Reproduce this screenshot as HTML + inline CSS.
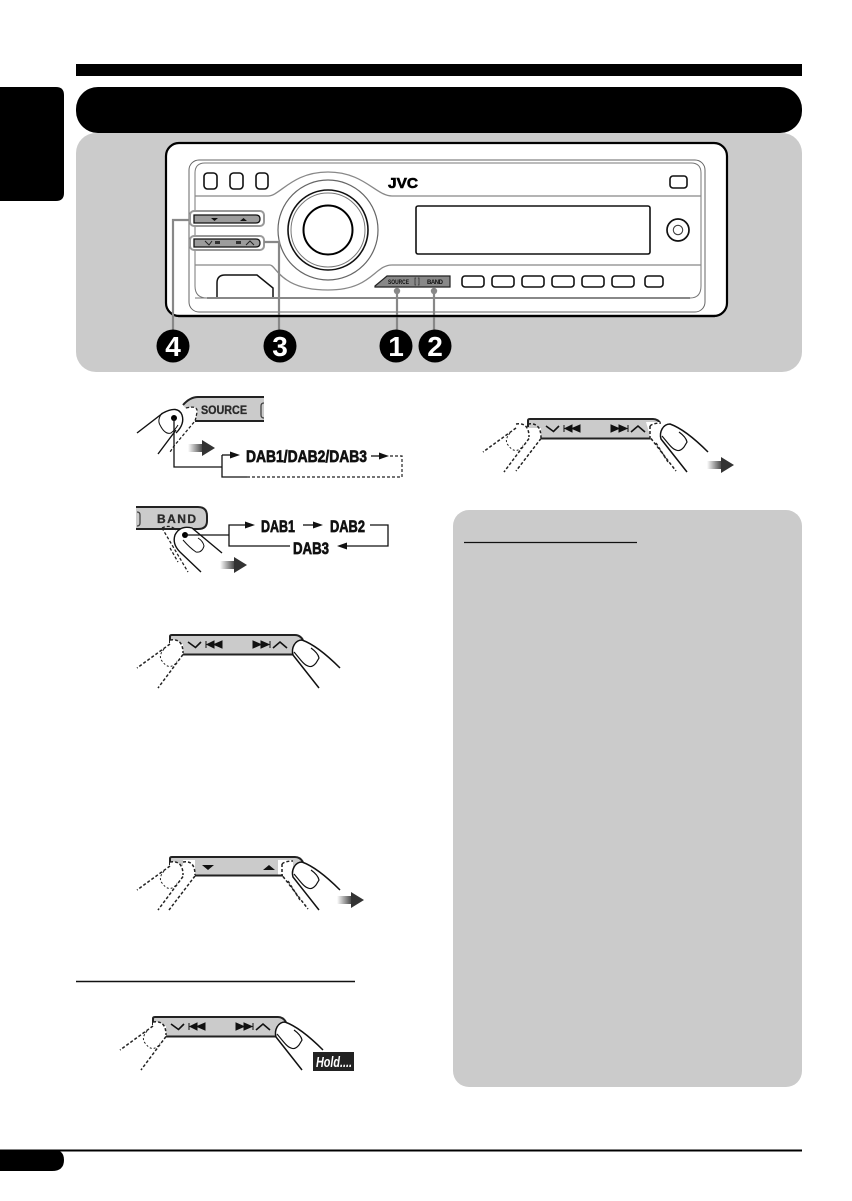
<!DOCTYPE html>
<html><head><meta charset="utf-8"><style>
html,body{margin:0;padding:0;background:#fff;width:852px;height:1201px;overflow:hidden}
svg{display:block}
text{font-family:"Liberation Sans",sans-serif;font-weight:bold}
.d{fill:#111;stroke:#111;stroke-width:.7}
</style></head><body>
<svg width="852" height="1201" viewBox="0 0 852 1201" xmlns="http://www.w3.org/2000/svg">
<defs>
<linearGradient id="ga" x1="0" x2="1" y1="0" y2="0"><stop offset="0" stop-color="#fff"/><stop offset="1" stop-color="#333"/></linearGradient>
<g id="arrow"><rect x="0" y="4" width="16" height="8" fill="url(#ga)"/><path d="M14,0L27,8L14,16Z" fill="#333"/></g>
<g id="barbase">
<path d="M0,9V1.5Q0,0 2,0H125Q130,0 134,6L123,19.5H13V9Z" fill="#cbcbcb"/>
<path d="M0,8V1.5Q0,0 2,0H125Q130,0 133,5" fill="none" stroke="#222" stroke-width="2"/>
</g>
<g id="chev">
<path d="M18,7L25.5,12.5L31,7" fill="none" stroke="#111" stroke-width="1.6"/>
<path d="M36,6V13M37,9.5L44,6V13ZM44,9.5L52,6V13Z" fill="#111" stroke="#111" stroke-width="1"/>
<path d="M83,6V13L91,9.5ZM91,6V13L99,9.5ZM100,6V13" fill="#111" stroke="#111" stroke-width="1"/>
<path d="M103,13L110,7L117,13" fill="none" stroke="#111" stroke-width="1.6"/>
</g>
<g id="ldash">
<path d="M0,5Q13,3 13,19L10,19L0,9Z" fill="#fff"/>
<path d="M0,5Q13,3 13,18M0,9L-33,33M13,19.5L-12,53" fill="none" stroke="#222" stroke-width="1.5" stroke-dasharray="3 2"/>
<path d="M-6,14Q-12,21 -8,26Q-3,33 2,31Q5,30 7,26" fill="none" stroke="#222" stroke-width="1" stroke-dasharray="2 2"/>
</g>
<g id="rfinger">
<path d="M132,5C125,5 121,13 123,20L149,53L171,33Z" fill="#fff"/>
<path d="M170,33C160,23 146,10 132,5C125,5 121,13 123,20L149,53" fill="none" stroke="#111" stroke-width="1.5"/>
<path d="M124,17C130,24 134,30 138,31Q142,33 146,28L149,23Q148,18 141,13" fill="none" stroke="#111" stroke-width="1.2"/>
</g>
<g id="rdash">
<path d="M122,7Q125,4 133,4" fill="none" stroke="#222" stroke-width="1.5" stroke-dasharray="3 2"/>
<path d="M122,7V19M123,19.5L148,52M128,24L140,43" fill="none" stroke="#222" stroke-width="1.5" stroke-dasharray="3 2"/>
</g>
</defs>

<!-- page frame -->
<rect x="76" y="64" width="726" height="12" fill="#000"/>
<path d="M0,87H56Q64,87 64,95V193Q64,201 56,201H0Z" fill="#000"/>
<rect x="76" y="133" width="726" height="239" rx="20" fill="#cbcbcb"/>
<rect x="76" y="87" width="726" height="46" rx="22" fill="#000"/>

<!-- faceplate -->
<rect x="166" y="143" width="561" height="173" rx="13" fill="#fff" stroke="#000" stroke-width="2.2"/>
<rect x="189" y="160" width="516" height="152" rx="10" fill="#fff" stroke="#666" stroke-width="1"/>
<path d="M195,298H690Q701,298 701,286V173Q701,163 691,163H205Q195,163 195,173V286Q195,298 207,298" fill="#fff" stroke="#777" stroke-width="1"/>
<path d="M207,298H690" stroke="#888" stroke-width="2"/>
<g fill="#fff" stroke="#111" stroke-width="1.6">
<rect x="204" y="173" width="13" height="16" rx="3.5"/><rect x="230" y="173" width="13" height="16" rx="3.5"/><rect x="256" y="173" width="12" height="16" rx="3.5"/>
<rect x="670" y="176" width="17" height="12" rx="3"/>
<rect x="416" y="206" width="234" height="48" rx="2"/>
<rect x="462" y="276" width="22" height="11" rx="3"/><rect x="492" y="276" width="22" height="11" rx="3"/><rect x="522" y="276" width="22" height="11" rx="3"/><rect x="552" y="276" width="22" height="11" rx="3"/><rect x="582" y="276" width="22" height="11" rx="3"/><rect x="612" y="276" width="22" height="11" rx="3"/><rect x="645" y="276" width="18" height="11" rx="3"/>
</g>
<g fill="none" stroke="#888" stroke-width="1.3">
<path d="M195,196H268C280,196 292,172 328,172C364,172 376,196 392,196H701"/>
<path d="M195,265H270C276,265 280,290 328,290C372,290 374,265 392,265H701"/>
</g>
<circle cx="328" cy="230" r="50" fill="#fff" stroke="#666" stroke-width="1.2"/>
<circle cx="328" cy="230" r="40" fill="#fff" stroke="#111" stroke-width="1.6"/>
<circle cx="328" cy="230" r="37" fill="#fff" stroke="#777" stroke-width="1"/>
<circle cx="328" cy="230" r="24.5" fill="#fff" stroke="#000" stroke-width="2"/>
<path d="M217,297V283Q217,275 225,275H257L273,288V297" fill="none" stroke="#111" stroke-width="1.5"/>
<text x="388" y="188" font-size="15" textLength="30" lengthAdjust="spacingAndGlyphs" stroke="#000" stroke-width=".6">JVC</text>
<circle cx="678" cy="230" r="11" fill="#fff" stroke="#111" stroke-width="1.7"/>
<circle cx="678" cy="230" r="4.7" fill="#fff" stroke="#444" stroke-width="1.1"/>
<!-- highlighted controls -->
<rect x="190" y="211" width="74" height="15" rx="4" fill="#fff" stroke="#999" stroke-width="2"/>
<rect x="190" y="236" width="74" height="14" rx="4" fill="#fff" stroke="#999" stroke-width="2"/>
<path d="M194,215H256Q260,215 260,219Q260,223 256,223H194Z" fill="#9c9c9c" stroke="#111" stroke-width="1.3"/>
<path d="M194,239H256Q260,239 260,243Q260,247 256,247H194Z" fill="#9c9c9c" stroke="#111" stroke-width="1.3"/>
<path d="M211,218H218L214.500,221ZM240,221H247L243.500,218Z" fill="#111"/>
<path d="M205,241L209,245L212,241M246,245L250,241L254,245" fill="none" stroke="#222"/>
<path d="M215,241h5v3h-5zM236,241h5v3h-5z" fill="#333"/>
<path d="M375,286L387,276H450V287H375Z" fill="#888" stroke="#222" stroke-width="1.2"/>
<text x="388" y="284" font-size="6" textLength="21" lengthAdjust="spacingAndGlyphs" fill="#111">SOURCE</text>
<text x="427" y="284" font-size="6" textLength="16" fill="#111">BAND</text>
<path d="M416,278h-1v7h1M418,278h1v7h-1" fill="none" stroke="#333" stroke-width=".8"/>
<!-- leader lines -->
<g fill="none" stroke="#888" stroke-width="2.2">
<path d="M189,220H173V332"/><path d="M264,242H279V332"/><path d="M397,291V332"/><path d="M434,291V332"/>
</g>
<circle cx="397" cy="291" r="3.200" fill="#888"/><circle cx="434" cy="291" r="3.200" fill="#888"/>
<path d="M178,316H715" stroke="#000" stroke-width="2.200"/>
<g font-size="28" fill="#fff" text-anchor="middle">
<circle cx="173" cy="346" r="16.500" fill="#000"/><text x="173" y="356">4</text>
<circle cx="280" cy="346" r="16.500" fill="#000"/><text x="280" y="356">3</text>
<circle cx="396" cy="346" r="16.500" fill="#000"/><text x="396" y="356">1</text>
<circle cx="435" cy="346" r="16.500" fill="#000"/><text x="435" y="356">2</text>
</g>

<!-- SOURCE -->
<path d="M183,405Q190,397 198,397H264V421H195Z" fill="#cbcbcb"/>
<path d="M183,405Q190,397 198,397H264M195,421H264" fill="none" stroke="#222" stroke-width="2"/>
<text x="201" y="414" font-size="11.500" textLength="46" lengthAdjust="spacingAndGlyphs" fill="#2a2a2a" stroke="#2a2a2a" stroke-width=".3">SOURCE</text>
<path d="M264,403Q261,403 261,406V415Q261,418 264,418" fill="none" stroke="#444" stroke-width="1.300"/>
<path d="M186,408Q198,405 197,412Q196,418 195,421L174,446L170,452" fill="#fff" stroke="#222" stroke-width="1.300" stroke-dasharray="3 2"/>
<path d="M137,433L163,413Q178,405 182,415Q185,424 176,433M158,454L176,430" fill="none" stroke="#111" stroke-width="1.400"/>
<path d="M162,413Q157,420 160,425Q165,435 171,433Q175,430 178,425" fill="none" stroke="#111" stroke-width="1"/>
<use href="#arrow" x="188" y="440"/>
<circle cx="174" cy="418" r="3" fill="#000"/>
<path d="M174,418V467H222M222,455V477H247" fill="none" stroke="#111" stroke-width="1.300"/>
<path d="M222,455H232" stroke="#111" stroke-width="1.300"/><path d="M230,451.500L240,455L230,458.500Z" fill="#111"/>
<text x="246" y="462" font-size="17" textLength="121" lengthAdjust="spacingAndGlyphs" class="d">DAB1/DAB2/DAB3</text>
<path d="M371,456H381" stroke="#111" stroke-width="1.300"/><path d="M379,452.500L389,456L379,459.500Z" fill="#111"/>
<path d="M390,456H402V477H247" fill="none" stroke="#222" stroke-width="1.200" stroke-dasharray="3 2"/>

<!-- BAND -->
<path d="M136,507H198Q207,507 207,516V521Q207,529 198,529H136Z" fill="#cbcbcb"/>
<path d="M136,507H198Q207,507 207,516V521Q207,529 198,529H136" fill="none" stroke="#222" stroke-width="2"/>
<text x="157" y="523" font-size="12" textLength="39" fill="#2a2a2a" stroke="#2a2a2a" stroke-width=".3">BAND</text>
<path d="M137,512Q140,512 140,515V523Q140,526 137,526" fill="none" stroke="#444" stroke-width="1.300"/>
<path d="M162,528Q170,524 176,530M162,528L188,572M170,548L178,562" fill="none" stroke="#222" stroke-width="1.300" stroke-dasharray="3 2"/>
<path d="M175,535Q180,525 192,528L222,553L203,573L175,540Z" fill="#fff"/>
<path d="M222,553L192,528Q180,525 175,535Q172,544 180,552L201,572" fill="none" stroke="#111" stroke-width="1.400"/>
<path d="M183,540Q190,548 196,552Q202,553 204,546Q203,541 198,538" fill="none" stroke="#111" stroke-width="1"/>
<circle cx="185" cy="535" r="3" fill="#000"/>
<use href="#arrow" x="220" y="557"/>
<path d="M185,535H229M247,525H229V546H290" fill="none" stroke="#111" stroke-width="1.300"/>
<path d="M245,521.500L255,525L245,528.500Z" fill="#111"/>
<text x="261" y="532" font-size="17" textLength="34" lengthAdjust="spacingAndGlyphs" class="d">DAB1</text>
<path d="M303,525H315" stroke="#111" stroke-width="1.300"/><path d="M313,521.500L323,525L313,528.500Z" fill="#111"/>
<text x="330" y="532" font-size="17" textLength="35" lengthAdjust="spacingAndGlyphs" class="d">DAB2</text>
<path d="M370,525H388V546H345" fill="none" stroke="#111" stroke-width="1.300"/>
<path d="M347,542.500L337,546L347,549.500Z" fill="#111"/>
<text x="293" y="554" font-size="17" textLength="36" lengthAdjust="spacingAndGlyphs" class="d">DAB3</text>

<!-- strip 1 -->
<g transform="translate(170,635)">
<use href="#barbase"/><path d="M13,19.500H123" stroke="#222" stroke-width="2"/>
<use href="#chev"/><use href="#ldash"/><use href="#rfinger"/>
</g>

<!-- strip 2 -->
<g transform="translate(170,857)">
<use href="#barbase"/>
<path d="M13,3H25V20.500H13Z" fill="#fff"/><path d="M108,3H123V20.500H108Z" fill="#fff"/>
<path d="M25,18.500H113" stroke="#222" stroke-width="2"/>
<path d="M32,8H44L38,13ZM93,13H105L99,8Z" fill="#111"/>
<use href="#ldash"/>
<path d="M13,5Q25,3 25,18M25,19L-1,53" fill="none" stroke="#222" stroke-width="1.500" stroke-dasharray="3 2"/>
<use href="#rdash" transform="translate(-10,0)"/>
<use href="#rfinger"/>
</g>
<use href="#arrow" x="337" y="892"/>

<!-- strip 3 -->
<path d="M76,981.500H355" stroke="#111" stroke-width="1.500"/>
<g transform="translate(153,1017)">
<use href="#barbase"/><path d="M13,19.500H123" stroke="#222" stroke-width="2"/>
<use href="#chev"/><use href="#ldash"/><use href="#rfinger"/>
</g>
<rect x="313" y="1052" width="41" height="19" fill="#222"/>
<text x="316" y="1067" font-size="15" font-style="italic" fill="#fff" textLength="36" lengthAdjust="spacingAndGlyphs">Hold....</text>

<!-- top right strip -->
<g transform="translate(528,419)">
<use href="#barbase"/><path d="M13,19.500H123" stroke="#222" stroke-width="2"/>
<use href="#chev"/>
<path d="M118,3H135V20.500H123Z" fill="#fff"/>
<use href="#ldash" transform="translate(-12,0)"/>
<path d="M0,5Q13,3 13,19M13,19.500L-12,52" fill="none" stroke="#222" stroke-width="1.500" stroke-dasharray="3 2"/>
<use href="#rdash"/>
<use href="#rfinger" transform="translate(10,0)"/>
</g>
<use href="#arrow" x="707" y="457"/>

<!-- info panel -->
<rect x="453" y="510" width="349" height="577" rx="16" fill="#cbcbcb"/>
<path d="M464,542.500H637" stroke="#111" stroke-width="1.300"/>

<!-- footer -->
<path d="M0,1150.500H802" stroke="#000" stroke-width="2"/>
<path d="M0,1150H54Q64,1150 64,1160Q64,1171 52,1171H0Z" fill="#000"/>
</svg>
</body></html>
